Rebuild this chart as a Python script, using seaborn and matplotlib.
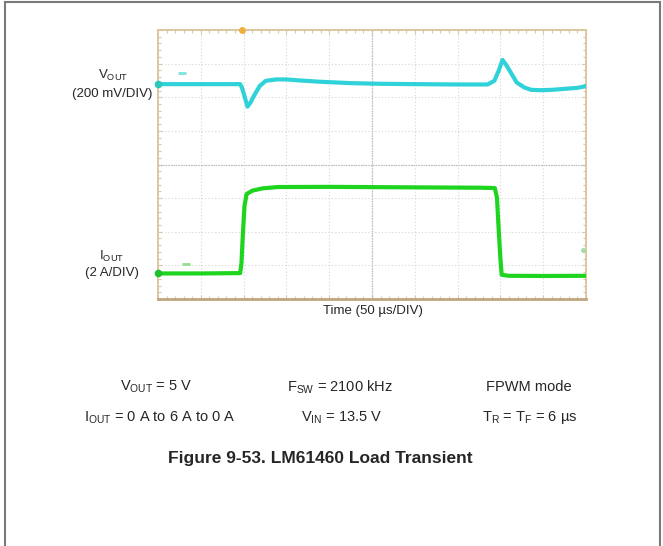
import matplotlib
matplotlib.use("Agg")
import matplotlib.pyplot as plt
import seaborn as sns
import pandas as pd
from matplotlib.patches import Rectangle

# ---- data (time in µs, 50 µs/DIV) ----
vout_t = [0, 40, 80, 96, 98, 101, 104.5, 108, 112, 119, 126, 138, 150, 165, 190, 225, 260, 300, 350, 385, 393, 398, 402.5, 406, 412, 419, 428, 436, 446, 460, 475, 490, 500]
vout_mv = [0, 0, 0, 0, -20, -70, -134, -110, -70, -10, 20, 28, 28, 22, 14, 6, 2, 0, -2, -2, 20, 80, 144, 120, 70, 10, -20, -34, -36, -34, -28, -22, -12]

iout_t = [0, 50, 96, 97.5, 99, 101, 103.5, 110, 122, 140, 200, 300, 375, 393.5, 396, 398, 400, 401.5, 410, 450, 500]
iout_a = [0, 0, 0.02, 0.6, 2.2, 4.0, 4.72, 4.92, 5.06, 5.14, 5.15, 5.12, 5.1, 5.08, 4.5, 2.6, 0.9, -0.08, -0.14, -0.15, -0.14]

VOUT_SCALE = 200.0   # mV/DIV
IOUT_SCALE = 2.0     # A/DIV
vout_off = 6.39      # screen position of channel ground (div)
iout_off = 0.76

left_labels = [r"V$_{\mathrm{OUT}}$", "(200 mV/DIV)", r"I$_{\mathrm{OUT}}$", "(2 A/DIV)"]
xlabel = "Time (50 µs/DIV)"
cond_row1 = [r"V$_{\mathrm{OUT}}$ = 5 V", r"F$_{\mathrm{SW}}$ = 2100 kHz", "FPWM mode"]
cond_row2 = [r"I$_{\mathrm{OUT}}$ = 0 A to 6 A to 0 A", r"V$_{\mathrm{IN}}$ = 13.5 V", r"T$_{\mathrm{R}}$ = T$_{\mathrm{F}}$ = 6 µs"]
title = "Figure 9-53. LM61460 Load Transient"

sns.set_style("white")
plt.rcParams['font.family'] = ['Liberation Sans', 'DejaVu Sans']
plt.rcParams['mathtext.fontset'] = 'custom'
plt.rcParams['mathtext.rm'] = 'Liberation Sans'
plt.rcParams['mathtext.it'] = 'Liberation Sans:italic'
plt.rcParams['mathtext.bf'] = 'Liberation Sans:bold'

W, H = 663, 546
fig = plt.figure(figsize=(W / 100, H / 100), dpi=100)

def fx(x):
    return x / W

def fy(y):
    return 1 - y / H

ax = fig.add_axes([fx(158), fy(299), fx(586) - fx(158), fy(30) - fy(299)])

df_v = pd.DataFrame({"t": [t / 50.0 for t in vout_t],
                     "y": [v / VOUT_SCALE + vout_off for v in vout_mv]})
df_i = pd.DataFrame({"t": [t / 50.0 for t in iout_t],
                     "y": [a / IOUT_SCALE + iout_off for a in iout_a]})

sns.lineplot(data=df_v, x="t", y="y", ax=ax, color="#2fd2d8", lw=3.0,
             estimator=None, sort=False, solid_joinstyle="round", zorder=5)
sns.lineplot(data=df_i, x="t", y="y", ax=ax, color="#1fd41f", lw=3.0,
             estimator=None, sort=False, solid_joinstyle="round", zorder=5)

# channel markers
ax.plot([0], [vout_off], marker="o", ms=4.5, color="#2fc8b8", clip_on=False, zorder=6)
ax.plot([0], [iout_off], marker="o", ms=4.5, color="#22c030", clip_on=False, zorder=6)
ax.plot([0.56], [6.72], marker="_", ms=6, mew=2, color="#7fe3d8", zorder=4)
ax.plot([0.66], [1.05], marker="_", ms=6, mew=2, color="#8fe08f", zorder=4)
ax.plot([9.93], [1.45], marker="o", ms=2.5, color="#9fdf9f", zorder=4)
ax.plot([1.97], [8.0], marker="o", ms=4, color="#f0b040", clip_on=False, zorder=6)

ax.set_xlim(0, 10)
ax.set_ylim(0, 8)
ax.set_xticks(range(0, 11))
ax.set_yticks(range(0, 9))
ax.set_xticks([i * 0.2 for i in range(51)], minor=True)
ax.set_yticks([i * 0.2 for i in range(41)], minor=True)
ax.tick_params(which="both", direction="in", labelbottom=False, labelleft=False,
               color="#d9c7a6", length=3, width=0.8,
               top=True, right=True, bottom=True, left=True)
ax.tick_params(which="minor", length=2)
ax.grid(True, which="major", color="#d6d6d6", linestyle=(0, (1, 2)), lw=0.8)
ax.axvline(5, color="#b8b8b8", lw=0.9, linestyle=(0, (1, 1)), zorder=1)
ax.axhline(4, color="#b8b8b8", lw=0.9, linestyle=(0, (1, 1)), zorder=1)
for s in ["left", "right", "top"]:
    ax.spines[s].set_color("#dcc7a0")
    ax.spines[s].set_linewidth(1.4)
ax.spines["bottom"].set_color("#bfa67e")
ax.spines["bottom"].set_linewidth(2.0)
ax.set_xlabel("")
ax.set_ylabel("")

# left channel labels
fs_small = 9.5
fig.text(fx(113), fy(75), left_labels[0], ha="center", va="center", fontsize=fs_small)
fig.text(fx(112), fy(94), left_labels[1], ha="center", va="center", fontsize=fs_small)
fig.text(fx(112), fy(256), left_labels[2], ha="center", va="center", fontsize=fs_small)
fig.text(fx(112), fy(273), left_labels[3], ha="center", va="center", fontsize=fs_small)
fig.text(fx(373), fy(311), xlabel, ha="center", va="center", fontsize=fs_small)

# conditions
fs_cond = 10.5
xs = [156, 340, 529]
for x, s in zip(xs, cond_row1):
    fig.text(fx(x), fy(387), s, ha="center", va="center", fontsize=fs_cond)
xs2 = [160, 342, 530]
for x, s in zip(xs2, cond_row2):
    fig.text(fx(x), fy(418), s, ha="center", va="center", fontsize=fs_cond)

fig.text(fx(320), fy(458), title, ha="center", va="center", fontsize=12.5, fontweight="bold")

# outer frame
fig.patches.append(Rectangle((fx(5), fy(560)), fx(660) - fx(5), fy(1.5) - fy(560),
                             transform=fig.transFigure, fill=False,
                             edgecolor="#7a7a7a", lw=1.5, clip_on=False))

fig.savefig("out.png", dpi=100)
